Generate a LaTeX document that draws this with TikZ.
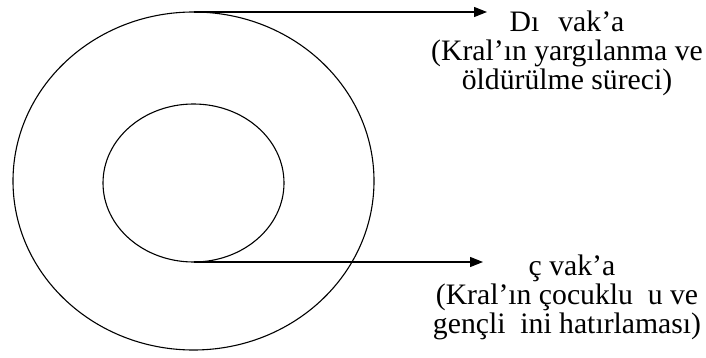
\documentclass[tikz,border=0pt]{standalone}
\usepackage{fontspec}
\setmainfont{Liberation Serif}
\usetikzlibrary{shapes.geometric,arrows.meta}
\begin{document}
\begin{tikzpicture}[x=1pt,y=-1pt,
  ring/.style={draw, ellipse, line width=1.1pt, inner sep=0pt, outer sep=0pt},
  conn/.style={line width=1.1pt, -{Triangle[length=13pt,width=10pt]}},
  lbl/.style={align=center, inner sep=0pt, font=\fontsize{29.7}{29}\selectfont}]
\useasboundingbox (0,0) rectangle (706,358);
\node[ring, minimum width=361pt, minimum height=338pt] (outer) at (193.5,181) {};
\node[ring, minimum width=181pt, minimum height=158pt] (inner) at (193.5,183) {};
\coordinate (t1) at (487,12);
\coordinate (t2) at (483,262);
\draw[conn] (outer.north) -- (t1);
\draw[conn] (inner.south) -- (t2);
\node[lbl, anchor=base] (dis) at (567,89.5) {Dı\hphantom{ş}\ vak’a\\(Kral’ın yargılanma ve\\öldürülme süreci)};
\node[lbl, anchor=base] (ic) at (567,333) {\hphantom{İ}ç vak’a\\(Kral’ın çocuklu\hphantom{ğ}u ve\\gençli\hphantom{ğ}ini hatırlaması)};
\end{tikzpicture}
\end{document}
